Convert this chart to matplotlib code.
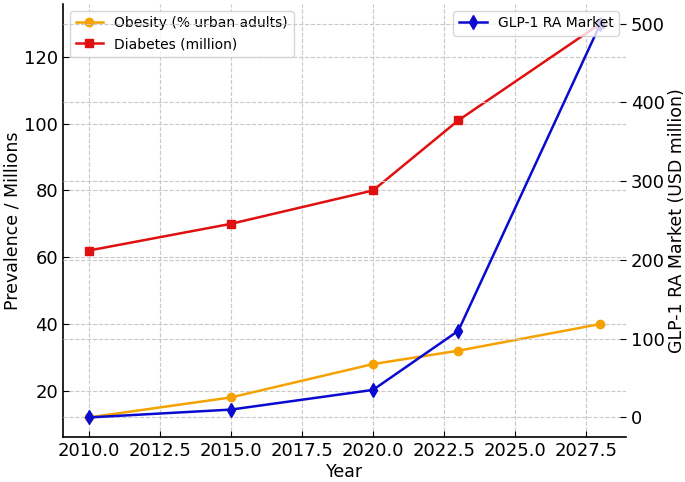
import matplotlib
matplotlib.use("Agg")
import matplotlib.pyplot as plt

years = [2010, 2015, 2020, 2023, 2028]
obesity = [12, 18, 28, 32, 40]
diabetes = [62, 70, 80, 101, 130]
glp1_market = [0, 10, 35, 110, 500]

plt.rcParams['font.family'] = ['DejaVu Sans']

fig = plt.figure(figsize=(6.85, 4.82), dpi=100)
ax = fig.add_axes([0.092, 0.093, 0.822, 0.899])
ax2 = ax.twinx()

ax.plot(years, obesity, color='#f5a100', marker='o', markersize=6, lw=1.8,
        label='Obesity (% urban adults)')
ax.plot(years, diabetes, color='#e01010', marker='s', markersize=6, lw=1.8,
        label='Diabetes (million)')
ax2.plot(years, glp1_market, color='#0a0ad0', marker='d', markersize=7, lw=1.8,
         label='GLP-1 RA Market')

ax.set_xlabel('Year', fontsize=12.5, labelpad=2)
ax.set_ylabel('Prevalence / Millions', fontsize=12.5, labelpad=2)
ax2.set_ylabel('GLP-1 RA Market (USD million)', fontsize=12.5, labelpad=2)

for a in (ax, ax2):
    a.tick_params(direction='in', labelsize=13, length=4)
    a.spines['top'].set_visible(False)
    a.spines['right'].set_visible(False)
    a.grid(True, linestyle='--', color='#c8c8c8', lw=0.8)
ax2.spines['left'].set_visible(False)
ax2.spines['bottom'].set_visible(False)
ax.spines['left'].set_linewidth(1.2)
ax.spines['bottom'].set_linewidth(1.2)

ax.legend(loc='upper left', fontsize=10, framealpha=0.8, handlelength=2)
ax2.legend(loc='upper right', fontsize=10, framealpha=0.8, handlelength=2)

fig.savefig('out.png', dpi=100)
